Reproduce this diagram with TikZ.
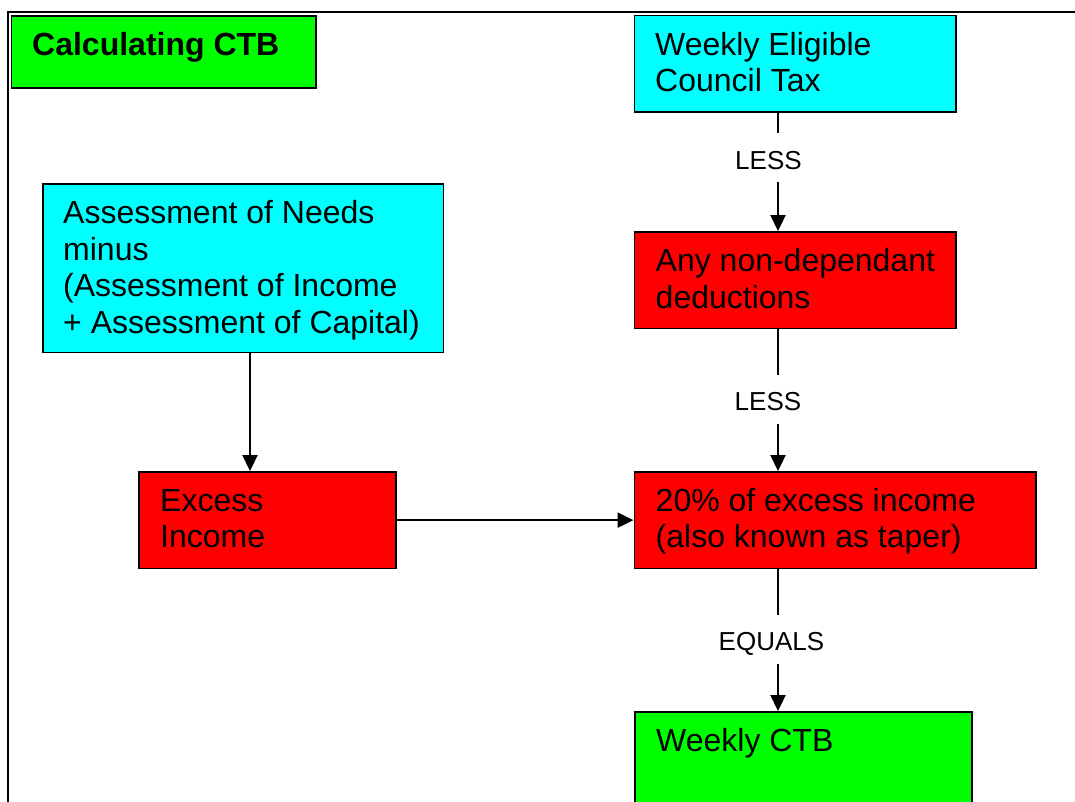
\documentclass[tikz,border=0pt]{standalone}
\usepackage{fontspec}
\setmainfont{Liberation Sans}
\usetikzlibrary{arrows.meta,calc}
\definecolor{boxcyan}{RGB}{0,255,255}
\definecolor{boxred}{RGB}{255,0,0}
\definecolor{boxgreen}{RGB}{0,255,0}
\begin{document}
\begin{tikzpicture}[x=1pt,y=-1pt,
  boxn/.style={draw=black, line width=1.8pt, rectangle, inner sep=0pt, anchor=north west},
  txt/.style={inner sep=0pt, anchor=base west, font=\fontsize{32}{36.7}\selectfont},
  lbl/.style={fill=white, inner sep=0pt, anchor=base west, text height=36pt, text depth=13pt, font=\fontsize{26}{30}\selectfont},
  conn/.style={line width=2.2pt, -{Triangle[length=16pt,width=15pt]}},
  frame/.style={line width=2.2pt}
  ]
\clip (0,0) rectangle (1075,801);
\fill[white] (0,0) rectangle (1075,801);
% outer frame
\draw[frame] (1085,12) -- (8,12) -- (8,815);

% boxes
\node[boxn, fill=boxgreen, minimum width=304.5pt, minimum height=72pt] (b0) at (10.5,15) {};
\node[boxn, fill=boxcyan, minimum width=321.5pt, minimum height=96.5pt] (b1) at (633.5,14.5) {};
\node[boxn, fill=boxcyan, minimum width=400.5pt, minimum height=168.5pt] (b2) at (42,183) {};
\node[boxn, fill=boxred, minimum width=321.5pt, minimum height=96.5pt] (b3) at (633.5,231) {};
\node[boxn, fill=boxred, minimum width=257pt, minimum height=96.5pt] (b4) at (138,471) {};
\node[boxn, fill=boxred, minimum width=401.5pt, minimum height=96.5pt] (b5) at (633.5,471) {};
\node[boxn, fill=boxgreen, minimum width=337pt, minimum height=110pt] (b6) at (634,711) {};

% texts
\node[txt, font=\fontsize{32}{36.7}\selectfont\bfseries] (t0) at ($(b0.north west)+(21.5,40)$) {Calculating CTB};
\node[txt] (t1) at ($(b1.north west)+(21.5,40.5)$) {\vtop{\hbox{Weekly Eligible}\hbox{Council Tax}}};
\node[txt] (t2) at ($(b2.north west)+(21,40.5)$) {\vtop{\hbox{Assessment of Needs}\hbox{minus}\hbox{(Assessment of Income}\hbox{+ Assessment of Capital)}}};
\node[txt] (t3) at ($(b3.north west)+(22,40.5)$) {\vtop{\hbox{Any non-dependant}\hbox{deductions}}};
\node[txt] (t4) at ($(b4.north west)+(22,40)$) {\vtop{\hbox{Excess}\hbox{Income}}};
\node[txt] (t5) at ($(b5.north west)+(22,40)$) {\vtop{\hbox{20\% of excess income}\hbox{(also known as taper)}}};
\node[txt] (t6) at ($(b6.north west)+(22,40.5)$) {Weekly CTB};

% connectors
\coordinate (cx) at (778,0);
\coordinate (ax) at (250,0);
\draw[conn] (b1.south -| cx) -- (b3.north -| cx);
\draw[conn] (b3.south -| cx) -- (b5.north -| cx);
\draw[conn] (b5.south -| cx) -- (b6.north -| cx);
\draw[conn] (b2.south -| ax) -- (b4.north -| ax);
\draw[conn] (b4.east) -- (b5.west);

% connector labels
\node[lbl] (l1) at (735,169) {LESS};
\node[lbl] (l2) at (734.5,410.5) {LESS};
\node[lbl] (l3) at (718.5,650.5) {EQUALS};
\end{tikzpicture}
\end{document}
